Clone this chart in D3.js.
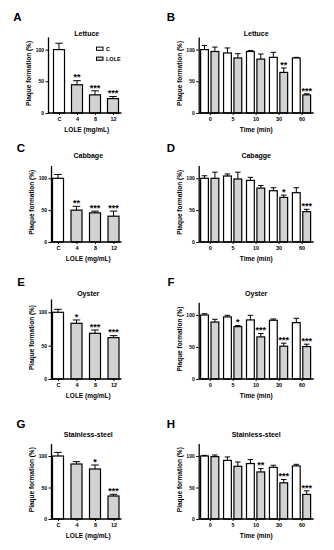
<!DOCTYPE html>
<html>
<head>
<meta charset="utf-8">
<script src="https://cdn.jsdelivr.net/npm/d3@7"></script>
<style>
  html, body { margin: 0; padding: 0; background: #fff; }
  svg { display: block; font-family: "Liberation Sans", Arial, sans-serif; font-weight: bold; }
</style>
</head>
<body>
<svg id="chart" width="334" height="550"></svg>
<script>
// ---------------- DATA ----------------
const doseCategories = ["C", "4", "8", "12"];
const timeCategories = ["0", "5", "10", "30", "60"];
const legendLabels = ["C", "LOLE"];
const yTickValues = [0, 50, 100];

// Lettuce
const lettuceDoseMean = [100, 44.5, 28.6, 22.7];
const lettuceDoseSem  = [10, 6.5, 6.4, 3.3];
const lettuceDoseStars = ["", "**", "***", "***"];
const lettuceTimeCtrlMean = [100, 94.7, 97, 87.8, 86.8];
const lettuceTimeCtrlSem  = [6.5, 7.9, 1.4, 7.9, 1.0];
const lettuceTimeLoleMean = [97, 86.8, 85, 64, 28.6];
const lettuceTimeLoleSem  = [7, 6.8, 8, 7, 1.6];
const lettuceTimeStars = ["", "", "", "**", "***"];

// Cabbage
const cabbageDoseMean = [100, 50, 45.8, 40.5];
const cabbageDoseSem  = [6, 6, 2.6, 8];
const cabbageDoseStars = ["", "**", "***", "***"];
const cabbageTimeCtrlMean = [100, 103.6, 96.7, 80.5, 77.4];
const cabbageTimeCtrlSem  = [4, 3.2, 4.8, 4.7, 7.8];
const cabbageTimeLoleMean = [100, 98.9, 84.6, 70, 47.6];
const cabbageTimeLoleSem  = [9.6, 10.7, 4.1, 3.6, 3.7];
const cabbageTimeStars = ["", "", "", "*", "***"];

// Oyster
const oysterDoseMean = [100, 83.5, 68.5, 62];
const oysterDoseSem  = [4.5, 5, 5, 3];
const oysterDoseStars = ["", "*", "***", "***"];
const oysterTimeCtrlMean = [100, 97, 92.3, 91.8, 88];
const oysterTimeCtrlSem  = [2, 2.5, 7.2, 2, 6.8];
const oysterTimeLoleMean = [89, 81.8, 65.8, 51.3, 50.7];
const oysterTimeLoleSem  = [4.3, 1.6, 5.2, 4.7, 3.7];
const oysterTimeStars = ["", "*", "***", "***", "***"];

// Stainless-steel
const steelDoseMean = [100, 87.3, 79.4, 36.5];
const steelDoseSem  = [5.8, 3.7, 6.3, 2.7];
const steelDoseStars = ["", "", "*", "***"];
const steelTimeCtrlMean = [100, 93, 88, 82, 84.2];
const steelTimeCtrlSem  = [1, 5.5, 6.3, 3.3, 2.6];
const steelTimeLoleMean = [99, 83.7, 74.7, 57.4, 39];
const steelTimeLoleSem  = [2.6, 6.8, 5.3, 5.3, 5.7];
const steelTimeStars = ["", "", "**", "***", "***"];

// ---------------- LAYOUT ----------------
const svg = d3.select("#chart");
const GREY = "#d2d2d2";
const yLabelText = "Plaque formation (%)";

const rows = [
  { y0: 113,   y100: 49.6,  titleY: 33,    letterY: 17 },
  { y0: 242,   y100: 178.3, titleY: 155.5, letterY: 148 },
  { y0: 379,   y100: 312.5, titleY: 293,   letterY: 282 },
  { y0: 519,   y100: 456,   titleY: 434.5, letterY: 424 }
];

const panels = [
  { letter: "A", title: "Lettuce", row: 0, side: "L", mean: lettuceDoseMean, sem: lettuceDoseSem, stars: lettuceDoseStars, legend: true },
  { letter: "B", title: "Lettuce", row: 0, side: "R", ctrl: lettuceTimeCtrlMean, ctrlSem: lettuceTimeCtrlSem, lole: lettuceTimeLoleMean, loleSem: lettuceTimeLoleSem, stars: lettuceTimeStars },
  { letter: "C", title: "Cabbage", row: 1, side: "L", mean: cabbageDoseMean, sem: cabbageDoseSem, stars: cabbageDoseStars },
  { letter: "D", title: "Cabagge", row: 1, side: "R", ctrl: cabbageTimeCtrlMean, ctrlSem: cabbageTimeCtrlSem, lole: cabbageTimeLoleMean, loleSem: cabbageTimeLoleSem, stars: cabbageTimeStars },
  { letter: "E", title: "Oyster", row: 2, side: "L", mean: oysterDoseMean, sem: oysterDoseSem, stars: oysterDoseStars, y100: 312.3 },
  { letter: "F", title: "Oyster", row: 2, side: "R", ctrl: oysterTimeCtrlMean, ctrlSem: oysterTimeCtrlSem, lole: oysterTimeLoleMean, loleSem: oysterTimeLoleSem, stars: oysterTimeStars, y100: 315 },
  { letter: "G", title: "Stainless-steel", row: 3, side: "L", mean: steelDoseMean, sem: steelDoseSem, stars: steelDoseStars },
  { letter: "H", title: "Stainless-steel", row: 3, side: "R", ctrl: steelTimeCtrlMean, ctrlSem: steelTimeCtrlSem, lole: steelTimeLoleMean, loleSem: steelTimeLoleSem, stars: steelTimeStars }
];

function drawErr(g, cx, yTop, yErr, cap) {
  g.append("line").attr("x1", cx).attr("x2", cx).attr("y1", yTop).attr("y2", yErr)
    .attr("stroke", "#000").attr("stroke-width", 1);
  g.append("line").attr("x1", cx - cap / 2).attr("x2", cx + cap / 2).attr("y1", yErr).attr("y2", yErr)
    .attr("stroke", "#000").attr("stroke-width", 1);
}

function drawStars(g, cx, yErr, s) {
  if (!s) return;
  g.append("text").attr("x", cx).attr("y", yErr - 0.3)
    .attr("text-anchor", "middle").attr("font-size", 9).attr("fill", "#000").text(s);
}

panels.forEach(p => {
  const r = rows[p.row];
  const y0 = r.y0;
  const y100 = p.y100 !== undefined ? p.y100 : r.y100;
  const top = y0 - 1.2 * (y0 - y100);
  const y = d3.scaleLinear().domain([0, 120]).range([y0, top]);
  const left = p.side === "L";
  const axisX = left ? (p.letter === "A" ? 48 : 51) : 198.7;
  const axisEnd = left ? 121.5 : 313.7;
  const g = svg.append("g");

  // panel letter
  svg.append("text").attr("x", left ? (p.letter === "A" ? 17.5 : 21) : 171)
    .attr("y", r.letterY).attr("dominant-baseline", "central").attr("text-anchor", "middle")
    .attr("font-size", 11.5).text(p.letter);
  // title
  svg.append("text").attr("x", (axisX + axisEnd) / 2 + (left ? 2 : 0)).attr("y", r.titleY)
    .attr("dominant-baseline", "central").attr("text-anchor", "middle")
    .attr("font-size", 7).text(p.title);

  // bars
  let xAxisScale;
  if (left) {
    const x = d3.scalePoint().domain(doseCategories).range(p.letter === "A" ? [59, 113] : [58, 113.5]);
    xAxisScale = x;
    const bw = 11;
    doseCategories.forEach((c, i) => {
      const cx = x(c);
      const yv = y(p.mean[i]), ye = y(p.mean[i] + p.sem[i]);
      drawErr(g, cx, yv, ye, 7.5);
      g.append("rect").attr("x", cx - bw / 2).attr("y", yv).attr("width", bw).attr("height", y(0) - yv)
        .attr("fill", i === 0 ? "#fff" : GREY).attr("stroke", "#000").attr("stroke-width", 1.2);
      drawStars(g, cx, ye, p.stars[i]);
    });
  } else {
    const x = d3.scalePoint().domain(timeCategories).range([209.7, 301.5]);
    xAxisScale = x;
    const bw = 7.8, off = 5.2;
    timeCategories.forEach((c, i) => {
      const cx1 = x(c) - off, cx2 = x(c) + off;
      const y1 = y(p.ctrl[i]), e1 = y(p.ctrl[i] + p.ctrlSem[i]);
      const y2 = y(p.lole[i]), e2 = y(p.lole[i] + p.loleSem[i]);
      drawErr(g, cx1, y1, e1, 5.5);
      drawErr(g, cx2, y2, e2, 5.5);
      g.append("rect").attr("x", cx1 - bw / 2).attr("y", y1).attr("width", bw).attr("height", y(0) - y1)
        .attr("fill", "#fff").attr("stroke", "#000").attr("stroke-width", 1.2);
      g.append("rect").attr("x", cx2 - bw / 2).attr("y", y2).attr("width", bw).attr("height", y(0) - y2)
        .attr("fill", GREY).attr("stroke", "#000").attr("stroke-width", 1.2);
      drawStars(g, cx2, e2, p.stars[i]);
    });
  }

  // y axis
  const ya = g.append("g").attr("transform", `translate(${axisX},0)`)
    .call(d3.axisLeft(y).tickValues(yTickValues).tickSize(2.5).tickSizeOuter(0).tickPadding(1.5));
  ya.select(".domain").attr("stroke-width", 1.3);
  ya.selectAll(".tick line").attr("stroke-width", 1);
  ya.selectAll(".tick text").attr("font-size", 5).attr("font-family", null).attr("font-weight", "bold");

  // x axis
  const xa = g.append("g").attr("transform", `translate(0,${y0})`)
    .call(d3.axisBottom(xAxisScale).tickSize(2).tickSizeOuter(0).tickPadding(2));
  xa.select(".domain").remove();
  xa.append("line").attr("x1", axisX).attr("x2", axisEnd).attr("y1", 0).attr("y2", 0)
    .attr("stroke", "#000").attr("stroke-width", 1.3);
  xa.selectAll(".tick line").attr("stroke-width", 1);
  xa.selectAll(".tick text").attr("font-size", 5.5).attr("font-family", null).attr("font-weight", "bold");

  // axis labels
  svg.append("text").attr("transform", `translate(${axisX - 19.5},${(y0 + top) / 2 - 1.5}) rotate(-90)`)
    .attr("text-anchor", "middle").attr("dominant-baseline", "central").attr("font-size", 6.5).text(yLabelText);
  svg.append("text").attr("x", (axisX + axisEnd) / 2 + (left ? 2 : 0)).attr("y", y0 + 16)
    .attr("text-anchor", "middle").attr("dominant-baseline", "central").attr("font-size", 6.5)
    .text(left ? "LOLE (mg/mL)" : "Time (min)");

  // legend
  if (p.legend) {
    legendLabels.forEach((lab, i) => {
      const ly = 48.7 + i * 10;
      svg.append("rect").attr("x", 96.5).attr("y", ly - 1.6).attr("width", 6.5).attr("height", 3.2)
        .attr("fill", i === 0 ? "#fff" : GREY).attr("stroke", "#000").attr("stroke-width", 1);
      svg.append("text").attr("x", 106).attr("y", ly).attr("dominant-baseline", "central")
        .attr("font-size", 5.5).text(lab);
    });
  }
});
</script>
</body>
</html>
